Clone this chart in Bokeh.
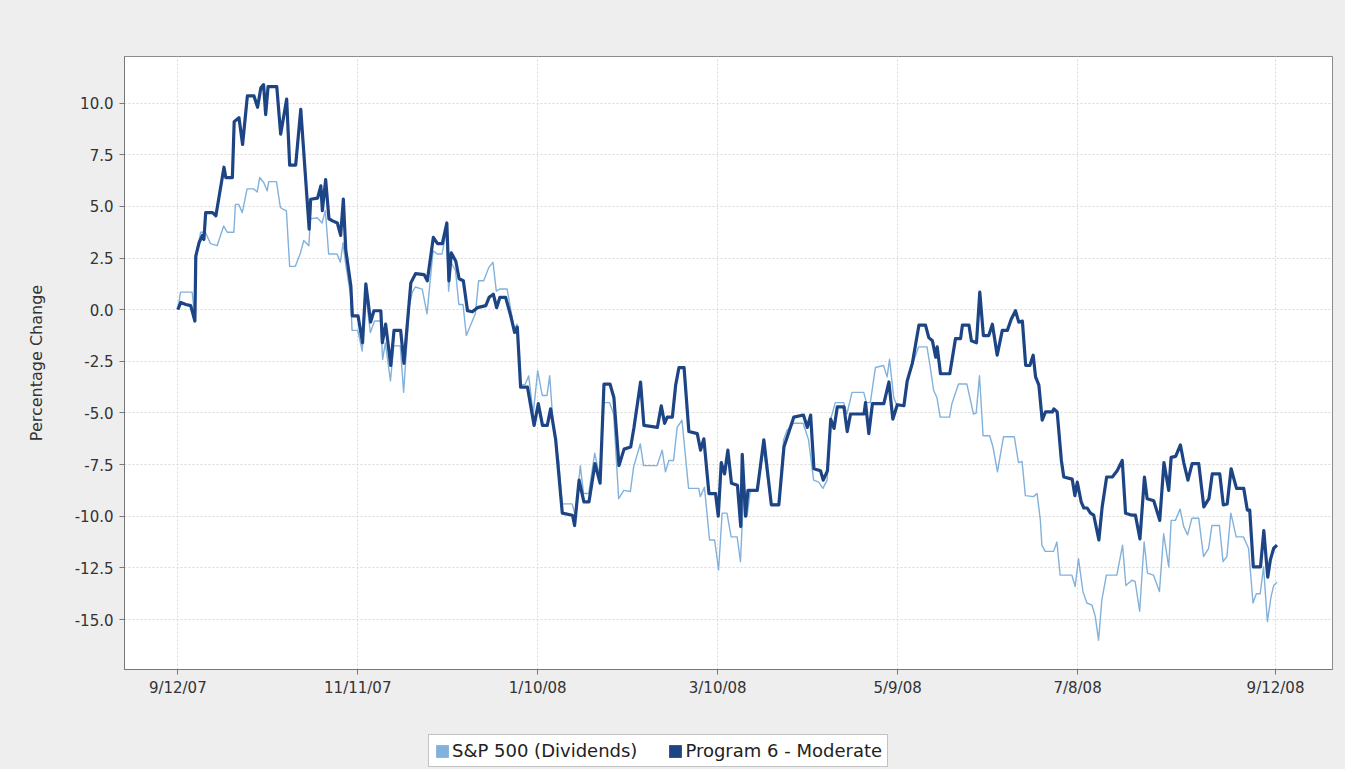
from bokeh.plotting import figure
from bokeh.layouts import column
from bokeh.models import (Range1d, FixedTicker, Legend, LegendItem, GlobalInlineStyleSheet)
from bokeh.embed import file_html
from bokeh.resources import INLINE

# ---- data (days since 9/12/07, percentage change) ----
prog_days = [0, 1.0, 2.7, 4.3, 5.7, 6.0, 7.1, 8.2, 8.7, 9.3, 11.6, 12.7, 15.4, 16.0, 18.2, 18.8,
             20.4, 21.6, 23.2, 25.4, 26.6, 27.7, 28.6, 29.3, 30.1, 33.0, 34.3, 36.3, 37.3, 39.3,
             41.0, 43.8, 44.3, 46.6, 47.7, 48.2, 49.3, 50.4, 51.6, 53.2, 54.3, 55.2, 56.0, 57.7,
             58.2, 60.1, 61.6, 62.7, 64.3, 65.4, 67.7, 68.2, 69.3, 71.0, 72.1, 74.3, 75.4, 77.7,
             79.3, 82.1, 83.2, 85.2, 86.6, 88.2, 89.7, 90.4, 91.2, 92.7, 93.8, 95.2, 96.6, 98.2,
             99.9, 102.7, 103.8, 105.2, 106.3, 107.4, 109.3, 111.0, 112.3, 113.2, 114.3, 116.6,
             118.8, 120.2, 121.6, 123.2, 124.3, 126.0, 128.2, 131.6, 132.3, 133.8, 135.4, 137.1,
             139.1, 140.8, 142.1, 144.1, 145.4, 147.1, 148.8, 151.0, 152.1, 154.3, 155.4, 159.9,
             161.2, 162.3, 163.2, 164.9, 166.0, 167.1, 168.8, 170.4, 173.2, 174.3, 175.4, 177.1,
             179.3, 180.2, 181.2, 182.3, 183.4, 184.6, 186.6, 187.7, 188.2, 189.3, 190.1, 193.2,
             195.4, 197.9, 200.4, 202.1, 205.4, 208.6, 209.9, 211.0, 212.1, 214.3, 215.2, 216.6,
             217.7, 218.8, 219.9, 222.1, 223.2, 224.3, 228.8, 229.3, 230.4, 231.6, 235.4, 237.1,
             238.4, 239.9, 242.1, 243.2, 244.9, 247.1, 249.3, 250.4, 251.6, 252.7, 253.2, 254.3,
             257.4, 259.3, 261.0, 261.6, 263.8, 264.6, 266.3, 267.4, 268.6, 270.4, 271.6, 273.2,
             274.9, 276.6, 277.9, 279.3, 280.4, 281.6, 282.7, 284.1, 285.2, 286.0, 287.1, 288.2,
             289.3, 291.6, 292.1, 293.2, 294.6, 295.4, 298.2, 299.1, 299.9, 301.2, 302.1, 303.2,
             304.3, 305.4, 307.1, 308.2, 309.7, 311.6, 313.2, 314.9, 316.0, 318.2, 319.3, 320.8,
             322.3, 323.2, 325.4, 327.4, 328.8, 330.4, 331.2, 332.7, 334.3, 335.4, 336.8, 338.2,
             340.4, 342.1, 343.8, 344.9, 347.4, 348.6, 349.9, 351.2, 353.0, 355.4, 356.6, 357.4,
             358.6, 361.0, 362.1, 363.4, 364.3, 365.4, 366.5]
prog_vals = [0.0, 0.35, 0.25, 0.2, -0.55, 2.6, 3.25, 3.6, 3.4, 4.7, 4.7, 4.55, 6.9, 6.4, 6.4, 9.1,
             9.3, 8.0, 10.35, 10.35, 9.8, 10.75, 10.9, 9.45, 10.8, 10.8, 8.5, 10.2, 7.0, 7.0,
             9.7, 3.9, 5.35, 5.4, 6.0, 4.8, 6.3, 4.4, 4.3, 4.2, 3.6, 5.35, 2.9, 1.15,
             -0.3, -0.3, -1.6, 1.25, -0.6, -0.05, -0.05, -1.6, -0.7, -2.7, -1.0, -1.0, -2.6, 1.3,
             1.75, 1.7, 1.4, 3.5, 3.2, 3.2, 4.2, 1.4, 2.75, 2.35, 1.5, 1.4, -0.05, -0.1,
             0.1, 0.2, 0.6, 0.75, 0.1, 0.6, 0.6, -0.3, -1.1, -0.85, -3.75, -3.75,
             -5.6, -4.55, -5.6, -5.6, -4.8, -6.3, -9.85, -9.95, -10.45, -8.25, -9.3, -9.3,
             -7.45, -8.4, -3.6, -3.6, -4.25, -7.55, -6.75, -6.65, -5.7, -3.5, -5.6, -5.7,
             -4.65, -5.5, -5.2, -5.2, -3.65, -2.8, -2.8, -5.9, -6.0, -6.8, -6.25, -8.9,
             -8.9, -10.0, -7.4, -7.95, -6.8, -8.4, -8.5, -10.5, -7.0, -10.0, -8.75, -8.75,
             -6.3, -9.45, -9.45, -6.65, -5.2, -5.1, -5.7, -5.1, -7.7, -7.8, -8.25, -7.8,
             -5.3, -5.75, -4.7, -4.7, -5.9, -5.05, -5.05, -4.5, -6.0, -4.55, -4.55, -3.5,
             -5.3, -4.6, -4.65, -3.45, -2.6, -0.75, -0.75, -1.35, -1.5, -2.3, -1.8, -3.1,
             -3.1, -1.4, -1.4, -0.75, -0.75, -1.5, -1.6, 0.85, -1.25, -1.25, -0.7, -2.2,
             -1.0, -1.0, -0.45, -0.05, -0.6, -0.55, -2.7, -2.7, -2.2, -3.25, -3.65, -5.35,
             -4.95, -4.95, -4.8, -4.95, -7.3, -8.1, -8.2, -9.0, -8.35, -9.3, -9.6, -9.6,
             -9.85, -9.95, -11.15, -9.55, -8.1, -8.1, -7.8, -7.3, -9.85, -9.95, -9.95, -11.1,
             -8.1, -9.15, -9.25, -10.2, -7.4, -8.75, -7.15, -7.1, -6.55, -7.4, -8.25, -7.45,
             -7.45, -9.55, -9.15, -7.95, -7.95, -9.45, -9.4, -7.7, -8.65, -8.65, -9.7, -9.7,
             -12.45, -12.45, -10.7, -12.95, -12.1, -11.55, -11.4]

sp_days = [0, 0.9, 4.8, 5.6, 6.2, 7.6, 9.2, 10.9, 13.1, 15.3, 16.5, 18.7, 19.2, 20.3, 21.5, 23.1,
           25.3, 26.5, 27.3, 28.7, 29.8, 30.3, 32.9, 34.2, 35.3, 36.2, 37.3, 39.2, 40.9, 42.0,
           43.7, 44.2, 46.5, 48.1, 49.2, 50.3, 53.1, 54.2, 55.1, 55.9, 57.6, 58.1, 60.0, 61.5,
           62.6, 64.2, 65.6, 67.6, 68.3, 69.2, 70.9, 72.0, 74.2, 75.3, 77.2, 78.2, 79.2, 81.5,
           83.1, 85.1, 86.5, 88.1, 89.6, 90.3, 91.1, 92.6, 93.7, 95.1, 96.2, 97.6, 99.2, 100.3,
           102.0, 103.7, 105.1, 106.2, 107.3, 109.8, 110.9, 112.2, 113.1, 114.2, 115.9, 117.0,
           118.5, 120.0, 121.5, 123.1, 124.0, 125.3, 127.0, 128.1, 131.5, 132.6, 134.2, 135.3,
           137.0, 139.0, 140.7, 142.0, 144.0, 145.3, 147.0, 148.7, 150.9, 152.0, 154.2, 155.3,
           159.8, 161.5, 162.6, 163.7, 165.3, 166.5, 168.1, 170.3, 173.7, 174.2, 175.6, 177.3,
           179.0, 180.3, 181.5, 183.1, 184.5, 186.5, 187.6, 188.7, 189.8, 190.9, 193.1, 195.3,
           197.8, 200.3, 202.0, 203.1, 205.3, 208.5, 210.3, 212.0, 213.7, 215.1, 216.5, 217.6,
           219.2, 222.0, 223.1, 224.8, 228.7, 229.6, 230.9, 232.6, 235.3, 236.5, 237.3, 238.7,
           239.8, 242.0, 243.1, 244.8, 247.0, 249.8, 250.9, 252.0, 253.1, 254.2, 257.3, 258.1,
           260.3, 263.1, 265.3, 266.2, 267.3, 268.5, 270.7, 271.8, 273.3, 275.3, 278.9, 280.3,
           281.5, 282.6, 285.3, 286.5, 287.6, 288.1, 289.2, 292.0, 293.1, 294.2, 298.1, 299.2,
           300.3, 301.8, 303.1, 304.8, 305.9, 307.0, 308.1, 309.6, 313.1, 315.0, 316.1, 318.1,
           319.2, 320.7, 322.2, 323.3, 325.3, 327.3, 328.7, 330.4, 331.2, 332.6, 334.2, 335.4,
           336.7, 338.1, 340.4, 342.0, 343.7, 344.8, 347.3, 348.5, 349.8, 351.1, 352.9, 355.3,
           357.0, 358.5, 359.6, 360.9, 362.0, 363.3, 364.5, 365.4, 366.5]
sp_vals = [0.0, 0.85, 0.85, -0.3, 2.6, 3.75, 3.75, 3.2, 3.1, 4.05, 3.75, 3.75, 5.1, 5.1, 4.7, 5.85,
           5.85, 5.7, 6.4, 6.15, 5.75, 6.2, 6.2, 4.95, 4.85, 4.8, 2.1, 2.1, 2.75, 3.35,
           3.1, 4.4, 4.45, 4.2, 4.8, 2.7, 2.7, 2.3, 3.25, 2.3, 0.7, -1.0, -1.0, -2.0,
           0.85, -1.1, -0.55, -0.55, -2.4, -1.6, -3.45, -1.75, -1.75, -4.0, 0.2, 0.85, 1.1, 1.0,
           -0.2, 2.85, 2.7, 2.7, 3.8, 0.9, 2.3, 1.9, 0.25, 0.25, -1.25, -0.75, -0.2, 1.4,
           1.4, 2.05, 2.3, 0.9, 1.0, 1.0, 0.1, -0.95, -0.7, -3.65, -3.6, -3.2,
           -5.05, -2.95, -4.15, -4.15, -3.2, -5.85, -7.3, -9.4, -9.4, -10.0, -7.55, -8.9,
           -8.9, -6.95, -8.1, -4.5, -4.5, -5.05, -9.15, -8.75, -8.8, -7.6, -6.5, -7.55,
           -7.55, -6.8, -7.85, -7.3, -7.3, -5.7, -5.35, -8.65, -8.65, -9.05, -8.6, -11.15,
           -11.15, -12.6, -9.85, -9.85, -11.0, -11.0, -12.2, -8.75, -10.0, -8.75, -8.75, -6.8,
           -9.4, -9.4, -6.3, -5.85, -5.5, -5.5, -6.3, -8.25, -8.35, -8.65, -8.25, -5.35,
           -4.5, -4.5, -5.05, -4.0, -4.0, -4.5, -4.5, -2.8, -2.7, -3.25, -2.4, -4.25,
           -4.65, -4.6, -3.45, -2.7, -1.8, -1.8, -2.8, -3.9, -4.25, -5.2, -5.2, -4.55,
           -3.6, -3.6, -5.05, -5.0, -3.2, -6.1, -6.1, -6.65, -7.85, -6.15, -6.15, -7.4,
           -7.35, -9.0, -9.05, -8.9, -10.2, -11.4, -11.7, -11.7, -11.25, -12.85, -12.85, -13.4,
           -12.05, -13.65, -14.2, -14.3, -14.85, -16.0, -14.05, -12.85, -12.85, -11.4, -13.35, -13.1,
           -13.15, -14.6, -11.25, -12.75, -12.85, -13.65, -10.85, -12.45, -10.2, -10.2, -9.65, -10.5,
           -10.9, -10.1, -10.1, -11.95, -11.55, -10.45, -10.45, -12.2, -11.95, -9.85, -11.0, -11.0,
           -11.55, -14.2, -13.75, -13.75, -12.45, -15.1, -13.9, -13.35, -13.2]

tick_days = [0, 60, 120, 180, 240, 300, 366]
tick_labels = ["9/12/07", "11/11/07", "1/10/08", "3/10/08", "5/9/08", "7/8/08", "9/12/08"]
y_ticks = [-15.0, -12.5, -10.0, -7.5, -5.0, -2.5, 0.0, 2.5, 5.0, 7.5, 10.0]
series_names = ["S&P 500 (Dividends)", "Program 6 - Moderate"]

LIGHT = "#82b1dc"
DARK = "#1d4585"
BG = "#eeeeee"
FONT = "DejaVu Sans"

p = figure(width=1345, height=715, output_backend="svg", toolbar_location=None,
           x_range=Range1d(-17.77, 385.0), y_range=Range1d(-17.42, 12.26),
           min_border_left=124, min_border_right=13, min_border_top=56, min_border_bottom=46)
p.stylesheets = [GlobalInlineStyleSheet(css="body { background: #eeeeee; }")]

p.border_fill_color = BG
p.background_fill_color = "white"
p.outline_line_color = "#8c8c8c"
p.outline_line_width = 1

r_sp = p.line(sp_days, sp_vals, line_color=LIGHT, line_width=1.4, line_join="round")
r_pg = p.line(prog_days, prog_vals, line_color=DARK, line_width=3.2, line_join="round")

# axes
p.xaxis.ticker = FixedTicker(ticks=tick_days)
p.xaxis.major_label_overrides = {d: l for d, l in zip(tick_days, tick_labels)}
p.yaxis.ticker = FixedTicker(ticks=y_ticks)
p.yaxis.major_label_overrides = {v: f"{v:.1f}" for v in y_ticks}
for ax in (p.xaxis[0], p.yaxis[0]):
    ax.axis_line_color = "#777777"
    ax.major_tick_line_color = "#777777"
    ax.major_tick_out = 5
    ax.major_tick_in = 0
    ax.minor_tick_line_color = None
    ax.major_label_text_font = FONT
    ax.major_label_text_font_size = "15px"
    ax.major_label_text_color = "#333333"
p.xaxis.major_label_standoff = 4
p.yaxis.major_label_standoff = 6
p.yaxis.axis_label = "Percentage Change"
p.yaxis.axis_label_text_font = FONT
p.yaxis.axis_label_text_font_size = "16px"
p.yaxis.axis_label_text_font_style = "normal"
p.yaxis.axis_label_text_color = "#333333"
p.yaxis.axis_label_standoff = 26

for g in (p.xgrid[0], p.ygrid[0]):
    g.grid_line_color = "#d9d9d9"
    g.grid_line_dash = "2 2"
    g.grid_line_width = 1
p.xgrid.ticker = FixedTicker(ticks=tick_days)
p.ygrid.ticker = FixedTicker(ticks=y_ticks)

# ---- legend strip below the chart ----
lg = figure(width=1345, height=54, output_backend="svg", toolbar_location=None,
            x_range=Range1d(0, 1), y_range=Range1d(0, 1),
            min_border_left=0, min_border_right=0, min_border_top=0, min_border_bottom=0)
lg.axis.visible = False
lg.grid.visible = False
lg.outline_line_color = None
lg.background_fill_color = BG
lg.border_fill_color = BG
# swatch glyphs sit outside the visible range; they only supply the legend squares
sw1 = lg.quad(left=[5], right=[6], top=[6], bottom=[5], fill_color=LIGHT, line_color=None)
sw2 = lg.quad(left=[5], right=[6], top=[6], bottom=[5], fill_color=DARK, line_color=None)

legend = Legend(items=[LegendItem(label=series_names[0], renderers=[sw1]),
                       LegendItem(label=series_names[1], renderers=[sw2])],
                orientation="horizontal", location=(304, 2))
legend.glyph_width = 16
legend.glyph_height = 16
legend.label_standoff = 2
legend.spacing = 30
legend.padding = 5
legend.margin = 0
legend.label_text_font = FONT
legend.label_text_font_size = "18px"
legend.label_text_color = "#222222"
legend.label_height = 16
legend.border_line_color = "#888888"
legend.border_line_width = 1
legend.background_fill_color = "white"
legend.background_fill_alpha = 1.0
lg.add_layout(legend, "center")

page = column(p, lg, spacing=0)
open("out.html", "w").write(file_html(page, INLINE))
